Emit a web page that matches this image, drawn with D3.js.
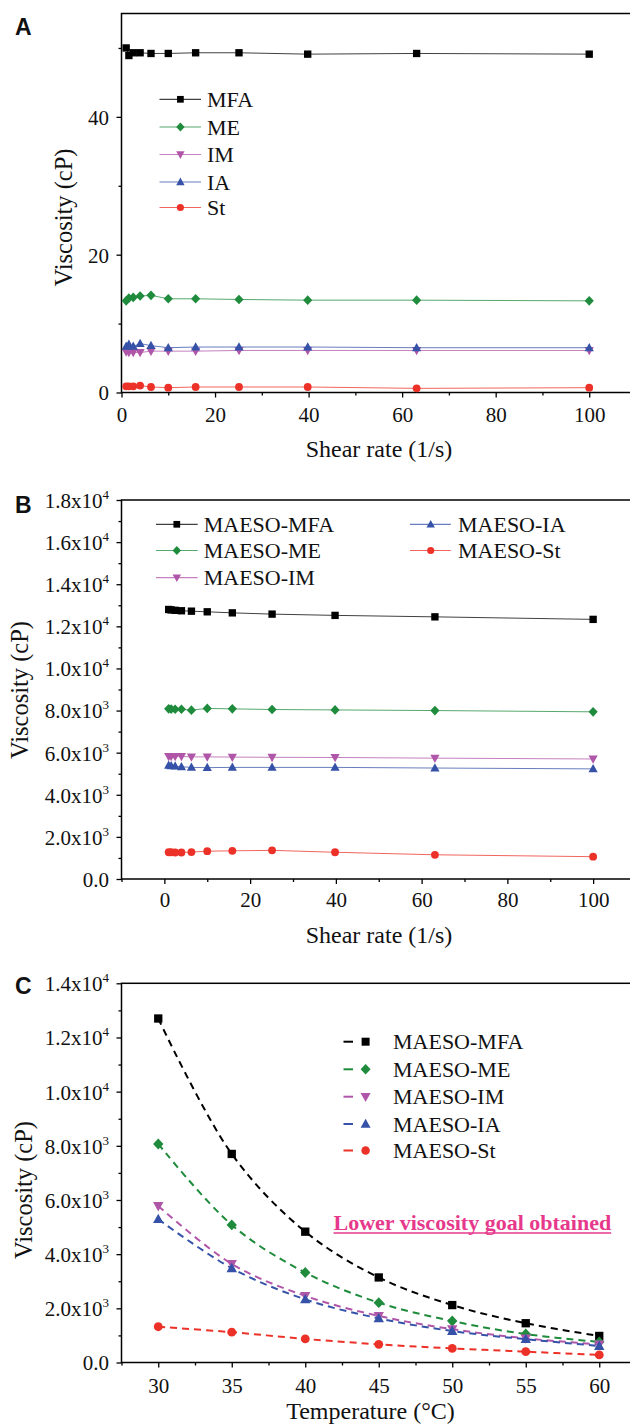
<!DOCTYPE html>
<html><head><meta charset="utf-8">
<script src="https://cdn.jsdelivr.net/npm/d3@7"></script>
<style>
body{margin:0;background:#fff;}
svg{display:block;}
text{font-family:"Liberation Serif","Times New Roman",serif;fill:#111;}
</style></head><body>
<svg id="chart" width="630" height="1425"></svg>
<script>
// ---------- data ----------
const shearRate = [1, 1.58, 2.51, 3.98, 6.31, 10, 15.85, 25.12, 39.81, 63.1, 100];
const aMFA = [50.0, 48.9, 49.3, 49.3, 49.2, 49.2, 49.3, 49.3, 49.1, 49.2, 49.1];
const aME  = [13.3, 13.7, 13.8, 14.0, 14.1, 13.6, 13.6, 13.5, 13.4, 13.4, 13.3];
const aIM  = [5.9, 5.8, 5.8, 5.8, 6.0, 6.0, 6.0, 6.1, 6.1, 6.1, 6.1];
const aIA  = [6.7, 7.0, 6.7, 7.1, 6.8, 6.5, 6.6, 6.6, 6.6, 6.5, 6.5];
const aSt  = [0.9, 0.9, 0.9, 1.0, 0.8, 0.7, 0.8, 0.8, 0.8, 0.6, 0.7];
const bMFA = [12800, 12780, 12760, 12740, 12720, 12690, 12640, 12580, 12520, 12450, 12330];
const bME  = [8080, 8070, 8060, 8060, 8020, 8100, 8080, 8050, 8030, 8000, 7940];
const bIM  = [5820, 5820, 5820, 5820, 5800, 5800, 5790, 5780, 5770, 5740, 5700];
const bIA  = [5400, 5380, 5360, 5330, 5300, 5290, 5300, 5300, 5300, 5270, 5230];
const bSt  = [1270, 1270, 1260, 1260, 1280, 1320, 1340, 1360, 1270, 1150, 1060];
const temperature = [30, 35, 40, 45, 50, 55, 60];
const cMFA = [12700, 7700, 4830, 3140, 2120, 1450, 980];
const cME  = [8070, 5080, 3320, 2210, 1530, 1050, 760];
const cIM  = [5780, 3640, 2460, 1720, 1230, 890, 670];
const cIA  = [5290, 3480, 2330, 1630, 1160, 860, 610];
const cSt  = [1320, 1120, 870, 670, 520, 400, 280];
const namesA = ["MFA", "ME", "IM", "IA", "St"];
const namesB = ["MAESO-MFA", "MAESO-ME", "MAESO-IM", "MAESO-IA", "MAESO-St"];
const xTicksShear = [0, 20, 40, 60, 80, 100];
const xTicksTemp = [30, 35, 40, 45, 50, 55, 60];
const yTicksA = [0, 20, 40];
const yTicksB = [0, 2000, 4000, 6000, 8000, 10000, 12000, 14000, 16000, 18000];
const yTicksC = [0, 2000, 4000, 6000, 8000, 10000, 12000, 14000];
const annotation = "Lower viscosity goal obtained";

// ---------- styles ----------
const colors = ["#000000", "#1f8b3c", "#b056a9", "#3552a8", "#ec3228"];
const shapes = ["square", "diamond", "tridown", "triup", "circle"];
const LEFT = 121.5, RIGHT = 636;
const svg = d3.select("#chart");

function markerPath(type, s) {
  const p = d3.path();
  if (type === "square") { p.rect(-s * 0.8, -s * 0.8, s * 1.6, s * 1.6); }
  else if (type === "diamond") { p.moveTo(0, -s * 1.05); p.lineTo(s, 0); p.lineTo(0, s * 1.05); p.lineTo(-s, 0); p.closePath(); }
  else if (type === "triup") { p.moveTo(0, -s * 1.05); p.lineTo(s * 1.0, s * 0.75); p.lineTo(-s * 1.0, s * 0.75); p.closePath(); }
  else if (type === "tridown") { p.moveTo(0, s * 1.05); p.lineTo(s * 1.0, -s * 0.75); p.lineTo(-s * 1.0, -s * 0.75); p.closePath(); }
  else { p.arc(0, 0, s * 0.85, 0, 2 * Math.PI); }
  return p.toString();
}

function sciLabel(sel) {
  sel.each(function (v) {
    const t = d3.select(this).text(null);
    if (v === 0) { t.append("tspan").text("0.0"); return; }
    const e = Math.floor(Math.log10(v));
    const m = (v / Math.pow(10, e)).toFixed(1);
    t.append("tspan").text(m + "x10");
    t.append("tspan").attr("font-size", 13).attr("dy", -9).text(e);
  });
}

function panel(o) {
  const g = svg.append("g");
  const x = d3.scaleLinear().domain(o.xDomain).range([LEFT, RIGHT]);
  const y = d3.scaleLinear().domain(o.yDomain).range([o.bottom, o.top]);

  // minor ticks
  g.append("g").attr("transform", `translate(0,${o.bottom})`)
    .call(d3.axisBottom(x).tickValues(o.xMinor).tickSize(3).tickFormat(""))
    .call(a => a.select(".domain").remove());
  g.append("g").attr("transform", `translate(${LEFT},0)`)
    .call(d3.axisLeft(y).tickValues(o.yMinor).tickSize(3).tickFormat(""))
    .call(a => a.select(".domain").remove());
  // major ticks
  const xa = g.append("g").attr("transform", `translate(0,${o.bottom})`)
    .call(d3.axisBottom(x).tickValues(o.xTicks).tickSize(5).tickFormat(d3.format("d")))
    .call(a => a.select(".domain").remove());
  xa.selectAll("text").attr("font-family", null).attr("font-size", 21).attr("y", o.xLabelOff).attr("dy", null).attr("fill", "#111");
  const ya = g.append("g").attr("transform", `translate(${LEFT},0)`)
    .call(d3.axisLeft(y).tickValues(o.yTicks).tickSize(5).tickFormat(d3.format("d")))
    .call(a => a.select(".domain").remove());
  ya.selectAll("text").attr("font-family", null).attr("font-size", 21).attr("x", -12.5).attr("dy", "0.35em").attr("fill", "#111");
  if (o.sci) ya.selectAll("text").call(sciLabel);
  g.selectAll(".tick line").attr("stroke", "#000").attr("stroke-width", 1.3);

  // frame
  g.append("rect").attr("x", LEFT).attr("y", o.top).attr("width", RIGHT - LEFT).attr("height", o.bottom - o.top)
    .attr("fill", "none").attr("stroke", "#000").attr("stroke-width", 1.5);

  // series
  const line = d3.line().x(d => x(d[0])).y(d => y(d[1]));
  if (o.curve) line.curve(o.curve);
  o.series.forEach((vals, i) => {
    const pts = o.xs.map((xv, j) => [xv, vals[j]]);
    g.append("path").attr("d", line(pts)).attr("fill", "none").attr("stroke", colors[i])
      .attr("stroke-width", o.lineW).attr("stroke-opacity", o.lineOp)
      .attr("stroke-dasharray", o.dash || null);
    g.selectAll(null).data(pts).join("path")
      .attr("transform", d => `translate(${x(d[0])},${y(d[1])})`)
      .attr("d", markerPath(shapes[i], o.ms)).attr("fill", colors[i]);
  });

  // legend
  o.legend.forEach((L, i) => {
    const lg = g.append("g");
    if (o.dash) {
      lg.append("line").attr("x1", L.x0).attr("x2", L.x0 + 9.5).attr("y1", L.y).attr("y2", L.y)
        .attr("stroke", colors[i]).attr("stroke-width", 2);
    } else {
      lg.append("line").attr("x1", L.x0).attr("x2", L.x1).attr("y1", L.y).attr("y2", L.y)
        .attr("stroke", colors[i]).attr("stroke-width", 1.2).attr("stroke-opacity", o.lineOp);
    }
    lg.append("path").attr("transform", `translate(${L.xm},${L.y})`).attr("d", markerPath(shapes[i], o.legMs)).attr("fill", colors[i]);
    lg.append("text").attr("x", L.xt).attr("y", L.y + 7.5).attr("font-size", 22).text(o.names[i]);
  });

  // titles
  g.append("text").attr("transform", `translate(${o.yTitleX},${o.yTitleY}) rotate(-90)`)
    .attr("text-anchor", "middle").attr("font-size", 24.5).text("Viscosity (cP)");
  g.append("text").attr("x", o.xTitleX).attr("y", o.xTitleY).attr("text-anchor", "middle")
    .attr("font-size", 24).text(o.xTitle);
  g.append("text").attr("x", 15).attr("y", o.letterY).attr("font-size", 23).attr("font-weight", "bold")
    .style("font-family", "'Liberation Sans', Arial, sans-serif").text(o.letter);
  return { g, x, y };
}

function legendRows(names, ys, x0, x1, xm, xt) {
  return names.map((n, i) => ({ y: ys[i], x0: x0[i], x1: x1[i], xm: xm[i], xt: xt[i] }));
}

// Panel A
panel({
  letter: "A", letterY: 35,
  top: 13.5, bottom: 392.5, xDomain: [0, 110], yDomain: [0, 55],
  xTicks: xTicksShear, xMinor: [10, 30, 50, 70, 90, 110], yTicks: yTicksA, yMinor: [10, 30, 50],
  xLabelOff: 29, sci: false,
  xs: shearRate, series: [aMFA, aME, aIM, aIA, aSt], names: namesA,
  lineW: 1, lineOp: 0.75, ms: 4.6, legMs: 4.2,
  legend: legendRows(namesA, [99.3, 127, 154.5, 182, 207.5], Array(5).fill(159.5), Array(5).fill(201), Array(5).fill(180.4), Array(5).fill(207)),
  xTitle: "Shear rate (1/s)", xTitleX: 379, xTitleY: 457, yTitleX: 72, yTitleY: 217.5
});

// Panel B
panel({
  letter: "B", letterY: 513,
  top: 500, bottom: 879, xDomain: [-10, 110], yDomain: [0, 18000],
  xTicks: xTicksShear, xMinor: [-10, 10, 30, 50, 70, 90, 110], yTicks: yTicksB, yMinor: d3.range(1000, 18000, 2000),
  xLabelOff: 28, sci: true,
  xs: shearRate, series: [bMFA, bME, bIM, bIA, bSt], names: namesB,
  lineW: 1, lineOp: 0.75, ms: 4.6, legMs: 4.2,
  legend: legendRows(namesB, [524.3, 550.5, 577.7, 524.3, 550.5], [156, 156, 156, 410, 410], [197.7, 197.7, 197.7, 450.8, 450.8], [176.8, 176.8, 176.8, 430.7, 430.7], [203.7, 203.7, 203.7, 458, 458]),
  xTitle: "Shear rate (1/s)", xTitleX: 379, xTitleY: 943, yTitleX: 28, yTitleY: 690
});

// Panel C
const pc = panel({
  letter: "C", letterY: 994,
  top: 983.3, bottom: 1362.5, xDomain: [27.5, 62.5], yDomain: [0, 14000],
  xTicks: xTicksTemp, xMinor: [27.5, 32.5, 37.5, 42.5, 47.5, 52.5, 57.5, 62.5], yTicks: yTicksC, yMinor: d3.range(1000, 14000, 2000),
  xLabelOff: 30.5, sci: true,
  xs: temperature, series: [cMFA, cME, cIM, cIA, cSt], names: namesB,
  lineW: 2, lineOp: 1, dash: "7,5", curve: d3.curveCatmullRom.alpha(0.5), ms: 5.2, legMs: 5,
  legend: legendRows(namesB, [1041.7, 1069.3, 1096.7, 1124, 1150.5], Array(5).fill(343.5), Array(5).fill(353), Array(5).fill(365.6), Array(5).fill(393)),
  xTitle: "Temperature (°C)", xTitleX: 370.5, xTitleY: 1419, yTitleX: 32, yTitleY: 1190
});

// annotation
const ann = pc.g.append("text").attr("x", 333.5).attr("y", 1229.5).attr("font-size", 22).attr("font-weight", "bold")
  .attr("fill", "#e6398c").style("fill", "#e6398c").text(annotation);
const annW = ann.node().getComputedTextLength();
pc.g.append("line").attr("x1", 333.5).attr("x2", 333.5 + annW).attr("y1", 1233).attr("y2", 1233)
  .attr("stroke", "#e6398c").attr("stroke-width", 1.6);
</script>
</body></html>
